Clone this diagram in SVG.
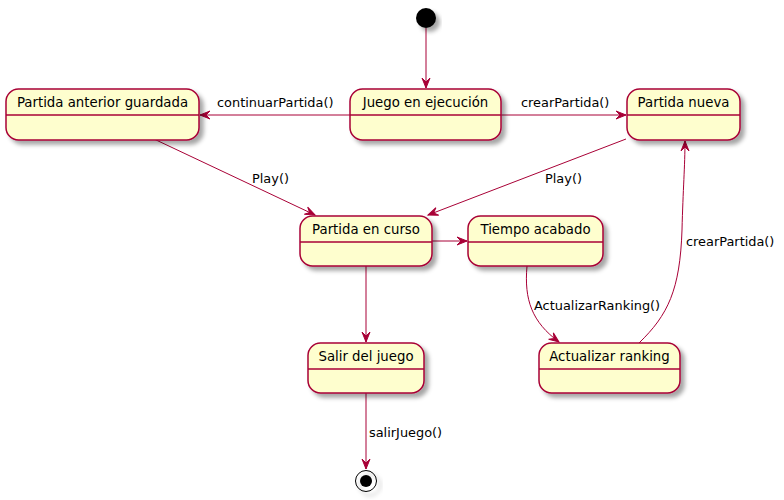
<svg xmlns="http://www.w3.org/2000/svg" width="784" height="500" viewBox="0 0 784 500">
<style>
.st{fill:#FEFECE;stroke:#A80036;stroke-width:1.5;filter:url(#sh)}
.sep{stroke:#A80036;stroke-width:1.5}
.nt{font-family:"DejaVu Sans",sans-serif;font-size:13.3px;fill:#000;text-anchor:middle}
.lb{font-family:"DejaVu Sans",sans-serif;font-size:12.9px;fill:#000}
.e{fill:none;stroke:#A80036;stroke-width:1;marker-end:url(#ah)}
</style>
<defs>
<filter id="sh" x="-20%" y="-20%" width="150%" height="160%">
<feGaussianBlur in="SourceAlpha" stdDeviation="2"/>
<feOffset dx="4" dy="4" result="b"/>
<feColorMatrix in="b" type="matrix" values="0 0 0 0 0  0 0 0 0 0  0 0 0 0 0  0 0 0 0.35 0" result="s"/>
<feMerge><feMergeNode in="s"/><feMergeNode in="SourceGraphic"/></feMerge>
</filter>
<marker id="ah" markerUnits="userSpaceOnUse" markerWidth="12" markerHeight="10" refX="10" refY="4" orient="auto" overflow="visible">
<path d="M0,0 L10,4 L0,8 L4,4 Z" fill="#A80036" stroke="#A80036" stroke-width="1"/>
</marker>
</defs>

<g id="connectors">
<path class="e" d="M426,28 L426,88"/>
<path class="e" d="M350,115 L200,115"/>
<path class="e" d="M501,115 L626,115"/>
<path class="e" d="M154,139 L315,215"/>
<path class="e" d="M626,139 L428,215"/>
<path class="e" d="M432,241 L467,241"/>
<path class="e" d="M366,266 L366,342"/>
<path class="e" d="M527,266 C524,300 532,322 559,342"/>
<path class="e" d="M639,343 C668,315 680,290 682,230 C683,190 685,165 685,141"/>
<path class="e" d="M366,393 L366,469"/>
<text class="lb" x="217" y="107">continuarPartida()</text>
<text class="lb" x="521" y="107">crearPartida()</text>
<text class="lb" x="252" y="183">Play()</text>
<text class="lb" x="545" y="183">Play()</text>
<text class="lb" x="534" y="310">ActualizarRanking()</text>
<text class="lb" x="686" y="246">crearPartida()</text>
<text class="lb" x="369" y="437">salirJuego()</text>
</g>

<g id="start"><circle cx="426" cy="18" r="10" fill="#000" filter="url(#sh)"/></g>

<g id="juego">
<rect class="st" x="350" y="89" width="151" height="51" rx="12.5"/>
<line class="sep" x1="350" y1="115" x2="501" y2="115"/>
<text class="nt" x="425.5" y="107">Juego en ejecución</text>
</g>

<g id="anterior">
<rect class="st" x="6" y="89" width="193" height="51" rx="12.5"/>
<line class="sep" x1="6" y1="115" x2="199" y2="115"/>
<text class="nt" x="102.5" y="107">Partida anterior guardada</text>
</g>

<g id="nueva">
<rect class="st" x="627" y="89" width="113" height="51" rx="12.5"/>
<line class="sep" x1="627" y1="115" x2="740" y2="115"/>
<text class="nt" x="683.5" y="107">Partida nueva</text>
</g>

<g id="curso">
<rect class="st" x="300" y="216" width="132" height="50" rx="12.5"/>
<line class="sep" x1="300" y1="242" x2="432" y2="242"/>
<text class="nt" x="366" y="234">Partida en curso</text>
</g>

<g id="tiempo">
<rect class="st" x="468" y="216" width="135" height="50" rx="12.5"/>
<line class="sep" x1="468" y1="242" x2="603" y2="242"/>
<text class="nt" x="535.5" y="234">Tiempo acabado</text>
</g>

<g id="salir">
<rect class="st" x="308" y="343" width="116" height="50" rx="12.5"/>
<line class="sep" x1="308" y1="369" x2="424" y2="369"/>
<text class="nt" x="366" y="361">Salir del juego</text>
</g>

<g id="actualizar">
<rect class="st" x="539" y="343" width="141" height="50" rx="12.5"/>
<line class="sep" x1="539" y1="369" x2="680" y2="369"/>
<text class="nt" x="609.5" y="361">Actualizar ranking</text>
</g>

<g id="end">
<circle cx="366" cy="481" r="10.5" fill="none" stroke="#000" stroke-width="1" filter="url(#sh)"/>
<circle cx="366" cy="481" r="6" fill="#000"/>
</g>
</svg>
